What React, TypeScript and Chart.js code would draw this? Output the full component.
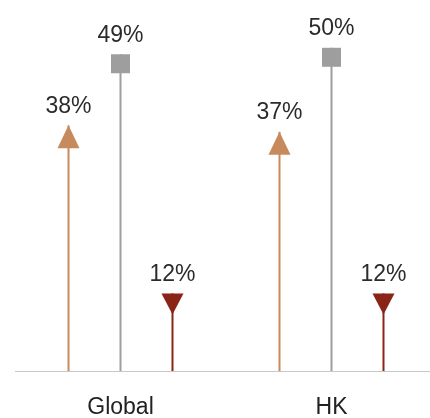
import React, { useEffect, useRef } from "react";
import { Chart, registerables } from "chart.js";

Chart.register(...registerables);

// Share of respondents by region, three measures per region
const categories = ["Global", "HK"];
const seriesNames = ["Up", "Level", "Down"];
const upValues = [38, 37];
const levelValues = [49, 50];
const downValues = [12, 12];

const colors = ["#c68a5d", "#9e9e9e", "#8a2417"];
const markerKinds = ["triangleUp", "square", "triangleDown"];

const FONT = '"Liberation Sans", Arial, Helvetica, sans-serif';

// Draws the marker head on each stem and the value label above it
const lollipopHeads = {
  id: "lollipopHeads",
  afterDatasetsDraw(chart: any) {
    const { ctx } = chart;
    chart.data.datasets.forEach((ds: any, di: number) => {
      const meta = chart.getDatasetMeta(di);
      const kind = markerKinds[di];
      meta.data.forEach((el: any, i: number) => {
        const x = el.x;
        const y = el.y;
        ctx.save();
        ctx.fillStyle = colors[di];
        ctx.beginPath();
        if (kind === "square") {
          ctx.rect(x - 9.5, y, 19, 19);
        } else if (kind === "triangleUp") {
          ctx.moveTo(x, y);
          ctx.lineTo(x + 11, y + 23);
          ctx.lineTo(x - 11, y + 23);
          ctx.closePath();
        } else {
          ctx.moveTo(x - 11, y);
          ctx.lineTo(x + 11, y);
          ctx.lineTo(x, y + 21);
          ctx.closePath();
        }
        ctx.fill();

        ctx.fillStyle = "#2b2b2b";
        ctx.font = `23px ${FONT}`;
        ctx.textAlign = "center";
        ctx.textBaseline = "alphabetic";
        ctx.fillText(`${ds.data[i]}%`, x, y - 12.5);
        ctx.restore();
      });
    });
  },
};

export default function App() {
  const canvasRef = useRef<HTMLCanvasElement | null>(null);

  useEffect(() => {
    if (!canvasRef.current) return;
    const values = [upValues, levelValues, downValues];
    const chart = new Chart(canvasRef.current, {
      type: "bar",
      data: {
        labels: categories,
        datasets: seriesNames.map((name, i) => ({
          label: name,
          data: values[i],
          backgroundColor: colors[i],
          borderWidth: 0,
          maxBarThickness: 2,
          barPercentage: 1,
          categoryPercentage: 0.7393,
        })),
      },
      options: {
        responsive: false,
        animation: false,
        layout: { padding: { left: 15, right: 0, top: 9, bottom: 0 } },
        plugins: {
          legend: { display: false },
          tooltip: { enabled: false },
        },
        scales: {
          x: {
            offset: true,
            grid: { display: false, drawTicks: false },
            border: { display: true, color: "#c8c8c8", width: 1 },
            ticks: {
              padding: 23,
              color: "#222222",
              font: { family: FONT, size: 23 },
            },
            afterFit(scale: any) {
              scale.height = 47;
            },
          },
          y: {
            display: false,
            min: 0,
            max: 56,
          },
        },
      },
      plugins: [lollipopHeads],
    });
    return () => chart.destroy();
  }, []);

  return (
    <div
      style={{
        position: "fixed",
        left: 0,
        top: 0,
        width: 430,
        height: 418,
        overflow: "hidden",
        background: "#ffffff",
      }}
    >
      <canvas
        ref={canvasRef}
        width={437}
        height={418}
        style={{ display: "block", width: 437, height: 418 }}
      />
    </div>
  );
}
